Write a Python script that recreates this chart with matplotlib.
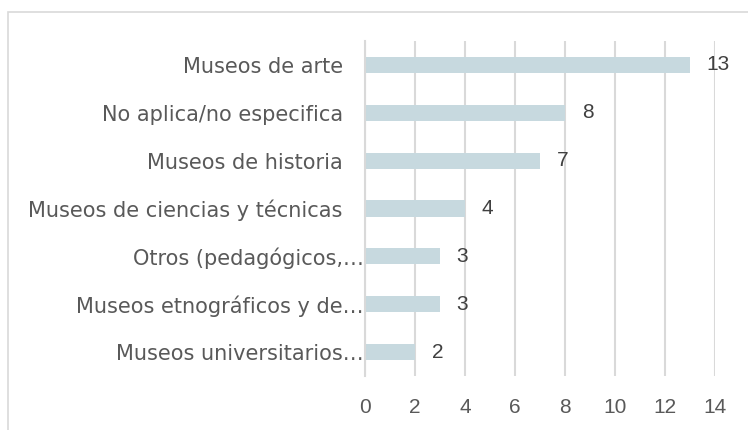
import matplotlib.pyplot as plt
import matplotlib.transforms as mtransforms
from matplotlib.patches import Rectangle

# data, top to bottom as shown in the chart
categories = [
    'Museos de arte',
    'No aplica/no especifica',
    'Museos de historia',
    'Museos de ciencias y técnicas',
    'Otros (pedagógicos,…',
    'Museos etnográficos y de…',
    'Museos universitarios…',
]
values = [13, 8, 7, 4, 3, 3, 2]
xticks = [0, 2, 4, 6, 8, 10, 12, 14]

bar_color = '#c7d9df'
grid_color = '#d9d9d9'
text_color = '#595959'

fig = plt.figure(figsize=(7.48, 4.30), dpi=100)
ax = fig.add_axes([365 / 748, 1 - 376 / 430, 350 / 748, 335 / 430])

# reverse so first category is at top
ypos = list(range(len(categories)))[::-1]
ax.barh(ypos, values, height=0.34, color=bar_color, zorder=2)

for y, v in zip(ypos, values):
    ax.annotate(str(v), (v, y), xytext=(12, 0), textcoords='offset points',
                va='center', ha='left', fontsize=15, color='#404040',
                family='Liberation Sans', zorder=3)

ax.set_xlim(0, 14)
ax.set_ylim(-0.5, len(categories) - 0.5)
ax.set_xticks(xticks)
ax.set_yticks(ypos)
ax.set_yticklabels(categories, fontsize=15, color=text_color, family='DejaVu Sans')
for lbl in ax.get_xticklabels():
    lbl.set_family('Liberation Sans')
ax.tick_params(axis='x', labelsize=15, colors=text_color, length=0, pad=16)
ax.tick_params(axis='y', length=0, pad=16)

# truncated labels sit closer to the axis (excel style)
shift = mtransforms.ScaledTranslation(15 / 72, 0, fig.dpi_scale_trans)
for lbl in ax.get_yticklabels():
    if lbl.get_text().endswith('…'):
        lbl.set_transform(lbl.get_transform() + shift)

ax.grid(axis='x', color=grid_color, linewidth=1.5, zorder=1)
ax.set_axisbelow(True)
for side in ['top', 'right', 'bottom']:
    ax.spines[side].set_visible(False)
ax.spines['left'].set_color(grid_color)
ax.spines['left'].set_linewidth(1.5)

# outer chart border
fig.patches.append(Rectangle((8 / 748, -0.1), 1.2, 1 - 12 / 430 + 0.1,
                             transform=fig.transFigure, fill=False,
                             edgecolor='#d9d9d9', linewidth=1.2))

fig.savefig('out.png', dpi=100)
